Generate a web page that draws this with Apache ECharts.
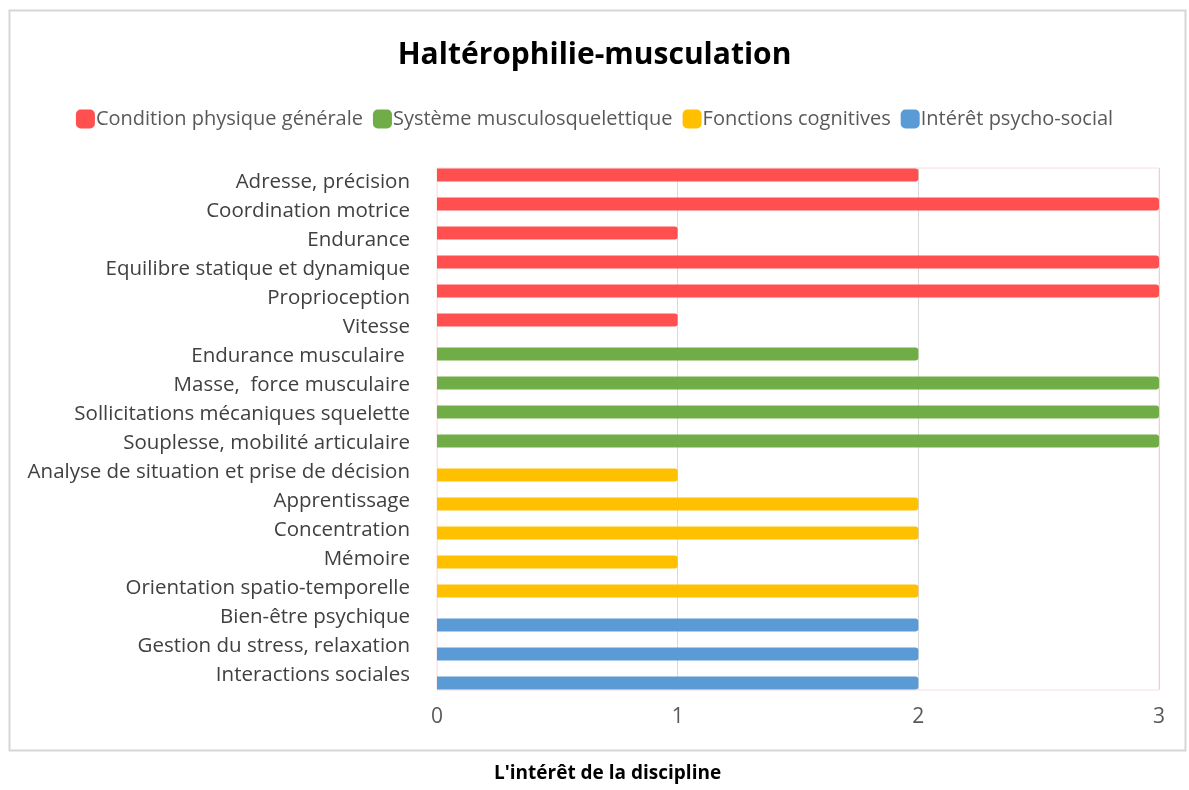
<!DOCTYPE html>
<html>
<head>
<meta charset="utf-8">
<script src="https://cdn.jsdelivr.net/npm/echarts@6/dist/echarts.min.js"></script>
<style>
  html, body { margin: 0; padding: 0; background: #fff; }
  #chart { width: 1189px; height: 790px; }
</style>
</head>
<body>
<div id="chart"></div>
<script>
// categories, top to bottom
const categories = [
  'Adresse, précision',
  'Coordination motrice',
  'Endurance',
  'Equilibre statique et dynamique',
  'Proprioception',
  'Vitesse',
  'Endurance musculaire ',
  'Masse,  force musculaire',
  'Sollicitations mécaniques squelette',
  'Souplesse, mobilité articulaire',
  'Analyse de situation et prise de décision',
  'Apprentissage',
  'Concentration',
  'Mémoire',
  'Orientation spatio-temporelle',
  'Bien-être psychique',
  'Gestion du stress, relaxation',
  'Interactions sociales'
];

const seriesNames = ['Condition physique générale', 'Système musculosquelettique', 'Fonctions cognitives', 'Intérêt psycho-social'];
const seriesColors = ['#FF4F4F', '#70AD47', '#FFC000', '#5B9BD5'];

// '-' = no bar for this group
const conditionPhysique = [2, 3, 1, 3, 3, 1, '-', '-', '-', '-', '-', '-', '-', '-', '-', '-', '-', '-'];
const systemeMusculo    = ['-', '-', '-', '-', '-', '-', 2, 3, 3, 3, '-', '-', '-', '-', '-', '-', '-', '-'];
const fonctionsCognit   = ['-', '-', '-', '-', '-', '-', '-', '-', '-', '-', 1, 2, 2, 1, 2, '-', '-', '-'];
const psychoSocial      = ['-', '-', '-', '-', '-', '-', '-', '-', '-', '-', '-', '-', '-', '-', '-', 2, 2, 2];

const xTicks = [0, 1, 2, 3];

const allData = [conditionPhysique, systemeMusculo, fonctionsCognit, psychoSocial];

const chart = echarts.init(document.getElementById('chart'));
const font = '"Open Sans", "Noto Sans", sans-serif';

const option = {
  animation: false,
  textStyle: { fontFamily: font },
  title: {
    text: 'Haltérophilie-musculation',
    left: 'center',
    top: 35,
    textStyle: { fontSize: 30, fontWeight: 'bold', color: '#000', fontFamily: font }
  },
  legend: {
    top: 104,
    left: 'center',
    itemWidth: 19,
    itemHeight: 19,
    itemGap: 10,
    icon: 'roundRect',
    textStyle: { fontSize: 20, color: '#595959', fontFamily: font, padding: [0, 0, 0, -4] },
    data: seriesNames
  },
  grid: {
    left: 437,
    right: 30,
    top: 168,
    bottom: 100,
    show: true,
    borderColor: '#f6dede',
    borderWidth: 1
  },
  xAxis: {
    type: 'value',
    min: xTicks[0],
    max: xTicks[xTicks.length - 1],
    interval: 1,
    axisLine: { show: false },
    axisTick: { show: false },
    splitLine: { show: true, lineStyle: { color: '#d9d9d9' } },
    axisLabel: { fontSize: 21, color: '#595959', margin: 17, fontFamily: font }
  },
  yAxis: {
    type: 'category',
    inverse: true,
    data: categories,
    axisLine: { show: true, lineStyle: { color: '#ececec' } },
    axisTick: { show: false },
    axisLabel: { fontSize: 20.5, color: '#404040', margin: 27, fontFamily: font }
  },
  series: seriesNames.map((name, i) => ({
    name: name,
    type: 'bar',
    data: allData[i],
    barWidth: 13,
    barGap: '-61%',
    itemStyle: { color: seriesColors[i], borderRadius: [0, 3, 3, 0] }
  })),
  graphic: [
    {
      type: 'rect',
      shape: { x: 9.5, y: 10.5, width: 1176, height: 740 },
      style: { fill: 'none', stroke: '#d6d6d6', lineWidth: 2 },
      z: -1
    },
    {
      type: 'text',
      left: 494,
      top: 764,
      style: { text: "L'intérêt de la discipline", fontSize: 19, fontWeight: 'bold', fill: '#000', fontFamily: font }
    }
  ]
};

chart.setOption(option);
</script>
</body>
</html>
